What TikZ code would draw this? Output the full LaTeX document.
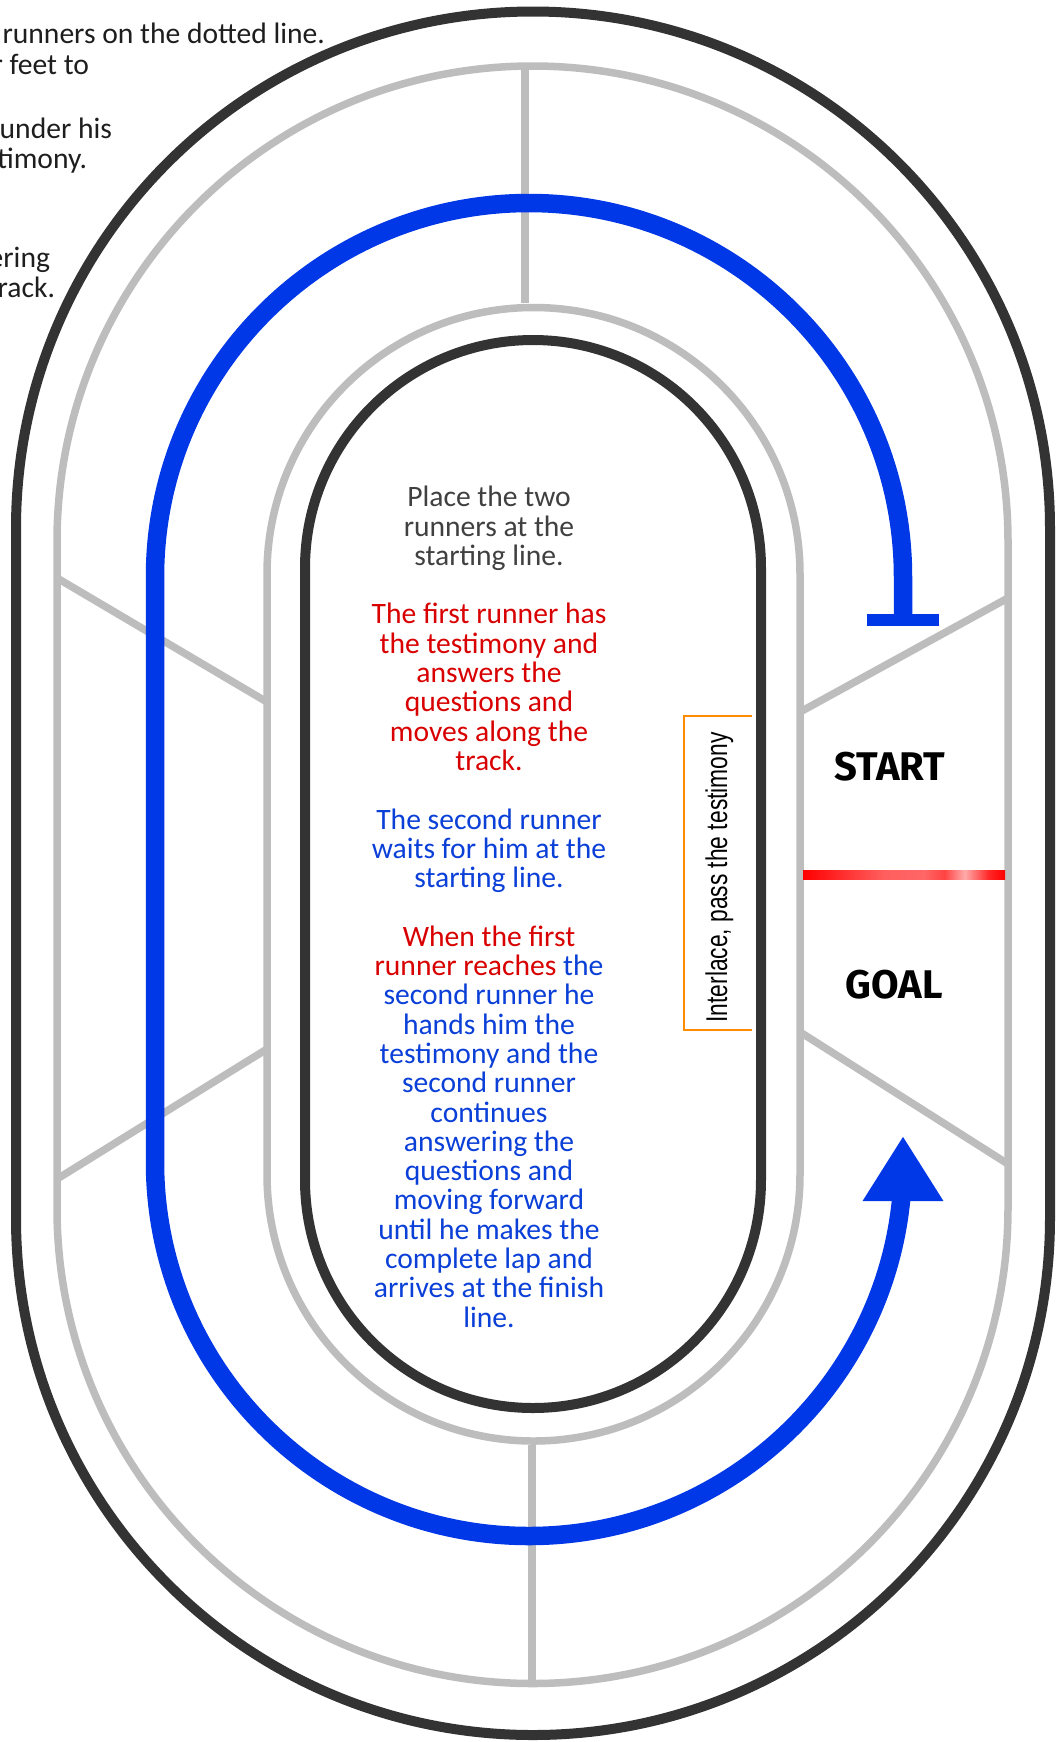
\documentclass[tikz,border=0pt]{standalone}
\usepackage{fontspec}
\setmainfont{Carlito}
\newfontfamily\signfont{Fira Sans}
\newfontfamily\boxfont{Liberation Sans}
\usepackage{graphicx}
\usepackage{xcolor}
\definecolor{trackdark}{HTML}{333333}
\definecolor{lanegray}{HTML}{BDBDBD}
\definecolor{runblue}{HTML}{0037E6}
\definecolor{textblue}{HTML}{0A3FD8}
\definecolor{textred}{HTML}{D80000}
\definecolor{textgray}{HTML}{404040}
\definecolor{ink}{HTML}{1E1E1E}
\definecolor{boxorange}{HTML}{FF8C00}
\usepackage{tikz}
\usetikzlibrary{arrows.meta}
\pgfdeclarehorizontalshading{finish}{100bp}{color(0bp)=(red); color(25bp)=(red); color(45bp)=(red!63); color(55bp)=(red!60); color(60bp)=(red!74); color(65bp)=(red!33); color(71bp)=(red!85); color(75bp)=(red); color(100bp)=(red)}

\begin{document}
\begin{tikzpicture}[x=0.5pt,y=-0.5pt,every node/.style={inner sep=0,outer sep=0,font=\fontsize{14.8}{14.8}\selectfont},
	dark/.style={draw=trackdark,line width=5pt},
	lane/.style={draw=lanegray,line width=3.75pt},
	run/.style={draw=runblue,line width=9.25pt},
	story/.style={anchor=base},
	sign/.style={anchor=base,font=\signfont\bfseries\fontsize{20}{20}\selectfont}]
	\useasboundingbox (0,0) rectangle (1061,1742);
	\fill[white] (0,0) rectangle (1061,1742);
	\clip (0,0) rectangle (1061,1742);
	% track lanes
	\foreach \cx/\r/\ct/\cb/\kind in {533/517/528.5/1218/dark,532.5/475.5/541.5/1208/lane,533.5/266.5/574/1174.5/lane,533/228/568/1180/dark}
		\draw[\kind] (\cx-\r,\ct) -- (\cx-\r,\cb) arc[start angle=180,end angle=0,radius=\r] -- (\cx+\r,\ct) arc[start angle=0,end angle=-180,radius=\r] -- cycle;
	% lane marks
	\draw[lane] (525,70) -- (525,303);
	\draw[lane] (532,1445) -- (532,1680);
	\draw[lane] (57,578) -- (267,702);
	\draw[lane] (57,1179) -- (267,1049);
	\draw[lane] (800,712) -- (1008,598);
	\draw[lane] (800,1032) -- (1008,1164);
	% the lap
	\draw[run,-{Triangle[length=32.5pt,width=38pt]}] (903,620) -- (903,577) arc[start angle=0,end angle=-180,radius=374]
		-- (155,1162) arc[start angle=180,end angle=0,radius=374] -- (903,1136);
	\fill[runblue] (867,614) rectangle (939,626);
	\shade[shading=finish] (803,870) rectangle (1005,879);
	\node[sign] (start) at (890,780) {START};
	\node[sign] (goal) at (894,998) {GOAL};
	% pass zone
	\node[rotate=90,anchor=base,font=\boxfont\fontsize{15}{15}\selectfont] (pass) at (727,877.5) {\scalebox{0.76}[1]{Interlace, pass the testimony}};
	\draw[boxorange,line width=1.15pt] (752,716) -- (684,716) -- (684,1030) -- (752,1030);
	% rules in the middle
	\foreach \i/\txt in {0/Place the two,1/runners at the,2/starting line.}
		\node[story,text=textgray] (g\i) at (489,{506.7+29.3*\i}) {\txt};
	\foreach \i/\txt in {4/The first runner has,5/the testimony and,6/answers the,7/questions and,8/moves along the,9/track.}
		\node[story,text=textred] (r\i) at (489,{506.7+29.3*\i}) {\txt};
	\foreach \i/\txt in {11/The second runner,12/waits for him at the,13/starting line.,15/\textcolor{textred}{When the first},16/\textcolor{textred}{runner reaches} the,17/second runner he,18/hands him the,19/testimony and the,20/second runner,21/continues,22/answering the,23/questions and,24/moving forward,25/until he makes the,26/complete lap and,27/arrives at the finish,28/line.}
		\node[story,text=textblue] (b\i) at (489,{506.7+29.3*\i}) {\txt};
	% cut text on the left
	\node[story,anchor=base east,text=ink] (l1) at (325,43) {runners on the dotted line.};
	\node[story,anchor=base east,text=ink] (l2) at (89,74) {r feet to};
	\node[story,anchor=base east,text=ink] (l3) at (112,138) {under his};
	\node[story,anchor=base east,text=ink] (l4) at (87,168) {timony.};
	\node[story,anchor=base east,text=ink] (l5) at (50,267) {ering};
	\node[story,anchor=base east,text=ink] (l6) at (55,297) {rack.};
\end{tikzpicture}
\end{document}
